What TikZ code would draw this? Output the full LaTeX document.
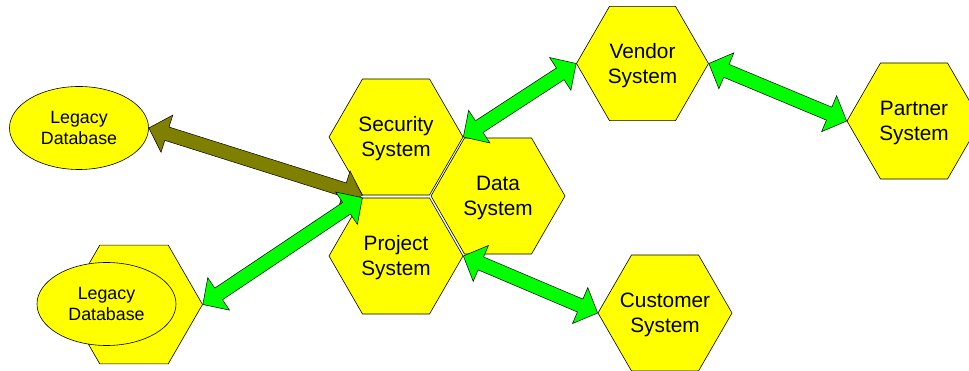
\documentclass[tikz,border=0pt]{standalone}
\usepackage{fontspec}
\setmainfont{Liberation Sans}
\usetikzlibrary{shapes.geometric,calc}

\definecolor{hexfill}{HTML}{FFFF00}
\definecolor{linkgreen}{HTML}{00FF00}
\definecolor{linkolive}{HTML}{808000}

\tikzset{
  hexbox/.style={draw=black, fill=hexfill, line width=0.6pt,
    regular polygon, regular polygon sides=6, minimum size=#1,
    inner sep=0pt},
  hexbox/.default=134pt,
  hextext/.style={align=center, inner sep=0pt, yshift=-2pt,
    font=\fontsize{20.8}{25}\selectfont},
  dbbox/.style={draw=black, fill=hexfill, line width=0.6pt, ellipse,
    minimum width=139pt, minimum height=83pt, inner sep=0pt,
    align=center, font=\fontsize{17.8}{21.7}\selectfont},
  linkarrow/.style={draw=black, line width=0.5pt, line join=miter, fill=#1}
}

% double-headed block arrow between two points
% #1 fill colour, #2 start, #3 end
\newcommand\blockarrow[3]{%
  \path[linkarrow=#1]
    let \p1=(#2), \p2=(#3),
        \n1={atan2(\y2-\y1,\x2-\x1)},
        \n2={veclen(\x2-\x1,\y2-\y1)} in
    ([shift={(\p1)},rotate=\n1]0,0)
    -- ([shift={(\p1)},rotate=\n1]19,19.5)
    -- ([shift={(\p1)},rotate=\n1]19,7)
    -- ([shift={(\p1)},rotate=\n1]\n2-19,7)
    -- ([shift={(\p1)},rotate=\n1]\n2-19,19.5)
    -- ([shift={(\p1)},rotate=\n1]\n2,0)
    -- ([shift={(\p1)},rotate=\n1]\n2-19,-19.5)
    -- ([shift={(\p1)},rotate=\n1]\n2-19,-7)
    -- ([shift={(\p1)},rotate=\n1]19,-7)
    -- ([shift={(\p1)},rotate=\n1]19,-19.5)
    -- cycle;}

\begin{document}
\begin{tikzpicture}[x=1pt,y=-1pt]
\useasboundingbox (0,0) rectangle (969,371);

% systems (text set as centred labels so the hexagon size stays fixed)
\node[hexbox, label={[hextext]center:Security\\System}] (sec) at (396,137) {};
\node[hexbox, label={[hextext]center:Project\\System}] (prj) at (396,256) {};
\node[hexbox, label={[hextext]center:Data\\System}] (dat) at (498,196) {};
\node[hexbox=132pt, label={[hextext]center:Vendor\\System}] (ven) at (642.5,63.5) {};
\node[hexbox, label={[hextext]center:Partner\\System}] (par) at (914,121) {};
\node[hexbox, label={[hextext]center:Customer\\System}] (cus) at (665,313) {};
\node[hexbox=137pt] (lhex) at (134,304.5) {};

% legacy databases
\node[dbbox] (db1) at (79,128) {Legacy\\Database};
\node[dbbox] (db2) at (106.5,304) {Legacy\\Database};

% links
\blockarrow{linkolive}{db1.east}{sec.240}
\blockarrow{linkgreen}{prj.120}{lhex.0}
\blockarrow{linkgreen}{sec.0}{ven.180}
\blockarrow{linkgreen}{ven.0}{par.180}
\blockarrow{linkgreen}{prj.0}{cus.180}
\end{tikzpicture}
\end{document}
